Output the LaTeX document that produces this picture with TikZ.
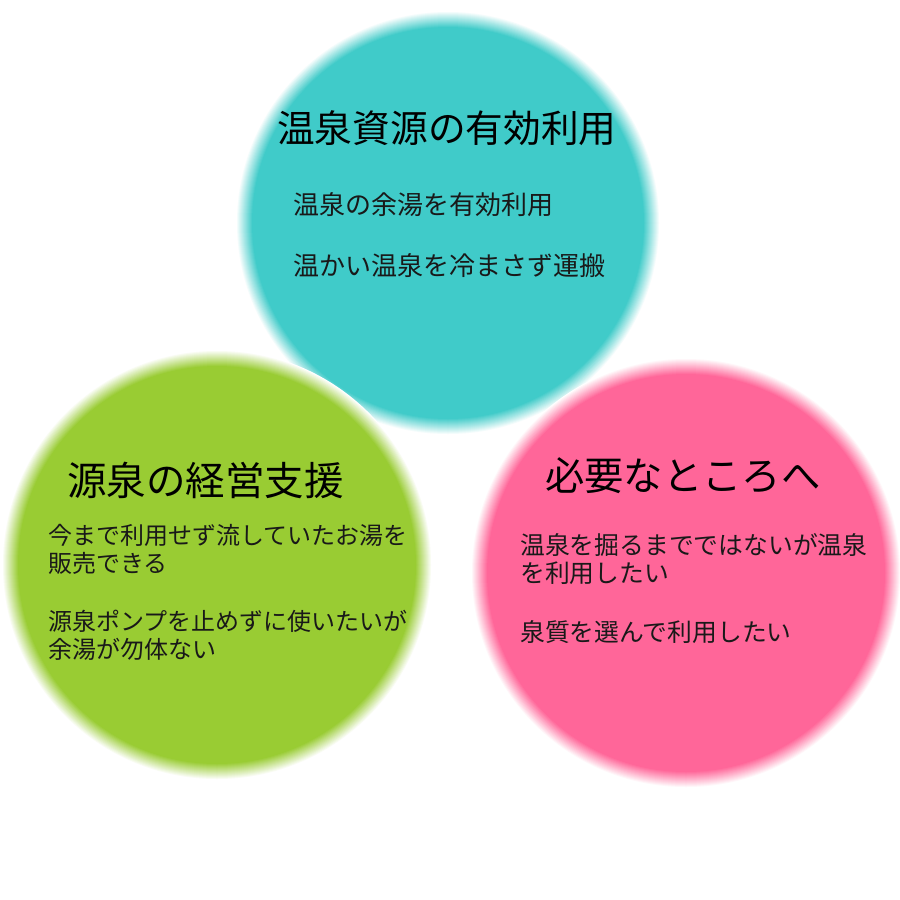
\documentclass[tikz,border=0pt]{standalone}
\usepackage{fontspec}
\setmainfont{Noto Sans CJK JP}
\definecolor{tealc}{HTML}{40CBC9}
\definecolor{greenc}{HTML}{99CC33}
\definecolor{pinkc}{HTML}{FF6699}
\newcommand{\fuzzydisc}[4]{% color, x, y, radius
  \foreach \i in {0,...,16}{%
    \pgfmathsetmacro\pp{100*\i/16}%
    \pgfmathsetmacro\rr{#4+8-\i}%
    \fill[#1!\pp!white] (#2,#3) circle[radius=\rr pt];
  }%
}
\tikzset{
  title/.style={anchor=west, inner sep=0pt, text=black},
  body/.style={anchor=west, inner sep=0pt, text=black!90, align=left},
}
\begin{document}
\begin{tikzpicture}[x=1pt,y=-1pt]
\useasboundingbox (0,0) rectangle (900,900);
\fill[white] (0,0) rectangle (900,900);
\fuzzydisc{tealc}{448}{223}{204}
\fuzzydisc{greenc}{217}{565}{207}
\fuzzydisc{pinkc}{686}{573}{207}
% teal
\node[title, font=\fontsize{37.7}{44}\selectfont] (t1) at (277,128) {温泉資源の有効利用};
\node[body, font=\fontsize{26}{28}\selectfont] (t1a) at (293,205) {温泉の余湯を有効利用};
\node[body, font=\fontsize{26}{28}\selectfont] (t1b) at (293,266) {温かい温泉を冷まさず運搬};
% green
\node[title, font=\fontsize{39.5}{44}\selectfont] (t2) at (67,480) {源泉の経営支援};
\node[body, font=\fontsize{24}{28}\selectfont] (t2a) at (48,549) {今まで利用せず流していたお湯を\\販売できる};
\node[body, font=\fontsize{24}{28}\selectfont] (t2b) at (48,635) {源泉ポンプを止めずに使いたいが\\余湯が勿体ない};
% pink
\node[title, font=\fontsize{39.3}{44}\selectfont] (t3) at (545,476) {必要なところへ};
\node[body, font=\fontsize{24.8}{28}\selectfont] (t3a) at (520,559) {温泉を掘るまでではないが温泉\\を利用したい};
\node[body, font=\fontsize{24.8}{28}\selectfont] (t3b) at (520,632) {泉質を選んで利用したい};
\end{tikzpicture}
\end{document}
